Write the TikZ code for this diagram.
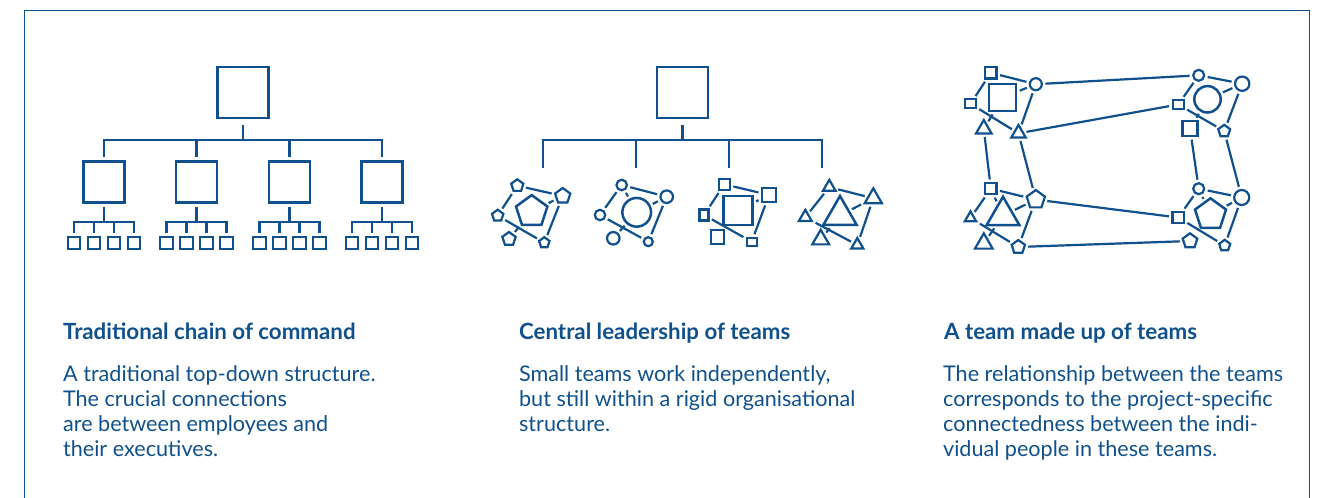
\documentclass[tikz,border=0pt]{standalone}
\usepackage{fontspec}
\setmainfont{Lato}
\usetikzlibrary{shapes.geometric,backgrounds}
\definecolor{teamblue}{RGB}{16,80,140}

\tikzset{
  unit/.style={draw, fill=white, inner sep=0pt, minimum size=#1},
  sq/.style 2 args={draw, fill=white, inner sep=0pt, minimum width=#1, minimum height=#2},
  pent/.style={regular polygon, regular polygon sides=5, draw, fill=white, inner sep=0pt, minimum size=#1},
  tri/.style={regular polygon, regular polygon sides=3, draw, fill=white, inner sep=0pt, minimum size=#1},
  dot/.style={circle, draw, fill=white, inner sep=0pt, minimum size=#1},
  tie/.style={draw=teamblue, line width=2.2pt, shorten >=2.5pt, shorten <=2.5pt},
  title/.style={anchor=base west, inner sep=0pt, font=\fontsize{22.3}{26}\selectfont\bfseries},
  blurb/.style={anchor=north west, inner sep=0pt, align=left, font=\fontsize{21.6}{25}\selectfont}
}

\begin{document}
\begin{tikzpicture}[x=1pt, y=-1pt, teamblue, line width=2.2pt]
  \useasboundingbox (0,0) rectangle (1318,498);
  \draw[line width=1.4pt] (24.5,498) -- (24.5,10.5) -- (1309.5,10.5) -- (1309.5,498);

  % traditional chain of command
  \node[unit=51] (boss1) at (243,92.5) {};
  \draw ([yshift=-6pt]boss1.south) -- ++(0,15) coordinate (bar1);
  \foreach \x [count=\i] in {104,196.5,289.5,382}{
    \node[unit=41] (lead\i) at (\x,182) {};
    \draw (bar1 -| lead\i) -- ([yshift=3pt]lead\i.north);
    \draw ([yshift=-3pt]lead\i.south) -- ++(0,15) coordinate (sub\i);
    \foreach \d [count=\j] in {-30,-10,10,30}{
      \node[unit=12.5, line width=1.9pt] (crew\i\j) at (\x+\d,243) {};
      \draw (sub\i -| crew\i\j) -- ([yshift=3pt]crew\i\j.north);
    }
    \draw[line cap=rect] (sub\i -| crew\i1) -- (sub\i -| crew\i4);
  }
  \draw[line cap=rect] (bar1 -| lead1) -- (bar1 -| lead4);

  % central leadership of teams
  \node[unit=51] (boss2) at (682.5,92.5) {};
  \draw ([yshift=-6pt]boss2.south) -- ++(0,15) coordinate (bar2);
  \foreach \x [count=\i] in {543,636,729,822}{
    \coordinate (drop\i) at (\x,168);
    \draw (bar2 -| drop\i) -- (drop\i);
  }
  \draw[line cap=rect] (bar2 -| drop1) -- (bar2 -| drop4);

  % pentagon team
  \node[pent=33, line width=2.5pt] (pBig) at (531.7,211.6) {};
  \node[pent=12.8] (pA) at (517.3,185.7) {};
  \node[pent=16] (pB) at (562.7,196) {};
  \node[pent=12] (pC) at (497.7,215.7) {};
  \node[pent=14] (pD) at (509,239) {};
  \node[pent=11] (pE) at (544.3,242.7) {};
  % circle team
  \node[dot=28.7, line width=2.5pt] (cBig) at (636.7,212.3) {};
  \node[dot=10.5] (cA) at (621.7,185) {};
  \node[dot=12.5] (cB) at (666.7,196.7) {};
  \node[dot=10.5] (cC) at (600,215) {};
  \node[dot=12.5] (cD) at (613.3,238.3) {};
  \node[dot=9] (cE) at (648.3,241.7) {};
  % square team
  \node[unit=29, line width=2.5pt] (sBig) at (738,210.3) {};
  \node[unit=11] (sA) at (724.3,184.3) {};
  \node[unit=14] (sB) at (769,195) {};
  \node[sq={9}{11}] (sC) at (704,215) {};
  \node[sq={13}{14}] (sD) at (717.7,236.7) {};
  \node[sq={10}{8}] (sE) at (751.7,241.7) {};
  % triangle team
  \node[tri=38.6, line width=2.5pt] (tBig) at (840,215.3) {};
  \node[tri=14.6] (tA) at (829.3,187.1) {};
  \node[tri=20] (tB) at (873.3,198.3) {};
  \node[tri=15] (tC) at (805.3,217.3) {};
  \node[tri=19.5] (tD) at (820.7,239.5) {};
  \node[tri=14] (tE) at (857.3,245) {};

  % a team made up of teams
  \node[unit=11.5] (qA) at (990.8,72.8) {};
  \node[unit=27, line width=2.5pt] (qB) at (1002.7,97.5) {};
  \node[sq={11}{9}] (qC) at (970.5,103.8) {};
  \node[dot=12] (qD) at (1035.8,84.2) {};
  \node[tri=18] (qE) at (983.8,129) {};
  \node[tri=16.6] (qF) at (1018.5,133.3) {};

  \node[dot=11] (rG) at (1198.7,75.3) {};
  \node[dot=26.4, line width=2.5pt] (rH) at (1207.5,99.3) {};
  \node[dot=14.3] (rI) at (1242.2,83.7) {};
  \node[sq={11.3}{9}] (rJ) at (1178.3,104.5) {};
  \node[unit=15] (rK) at (1190,128.5) {};
  \node[pent=12.6] (rL) at (1224.2,131.1) {};

  \node[unit=11.2] (mM) at (990.8,188.7) {};
  \node[pent=19.2] (mN) at (1035.8,199.6) {};
  \node[tri=37.8, line width=2.5pt] (mO) at (1003,215.6) {};
  \node[tri=13.2] (mP) at (970.5,218) {};
  \node[tri=20.4] (mQ) at (983.8,243.5) {};
  \node[pent=14] (mR) at (1018.3,247) {};

  \node[dot=11] (nT) at (1198.7,188.7) {};
  \node[pent=32.6, line width=2.5pt] (nU) at (1210.5,214.6) {};
  \node[dot=15] (nV) at (1241.7,197.5) {};
  \node[unit=11.5] (nS) at (1178.3,217.5) {};
  \node[pent=15.4] (nW) at (1190,241) {};
  \node[pent=11.6] (nX) at (1224.7,245.6) {};

  \begin{scope}[on background layer]
    \draw[tie] (pA) -- (pB);  \draw[tie] (pA) -- (pC);  \draw[tie] (pB) -- (pE);
    \draw[tie] (pC) -- (pE);  \draw[tie] (pD) -- (pBig); \draw[tie] (pB) -- (pBig);
    \draw[tie] (cA) -- (cB);  \draw[tie] (cA) -- (cC);  \draw[tie] (cB) -- (cE);
    \draw[tie] (cC) -- (cE);  \draw[tie] (cD) -- (cBig); \draw[tie] (cB) -- (cBig);
    \draw[tie] (cA) -- (cBig);
    \draw[tie] (sA) -- (sB);  \draw[tie] (sA) -- (sC);  \draw[tie] (sB) -- (sE);
    \draw[tie] (sC) -- (sE);  \draw[tie] (sB) -- (sBig);
    \draw[tie] (tA) -- (tB);  \draw[tie] (tA) -- (tC);  \draw[tie] (tB) -- (tE);
    \draw[tie] (tC) -- (tE);  \draw[tie] (tB) -- (tBig); \draw[tie] (tD) -- (tBig);

    \draw[tie] (qA) -- (qD);  \draw[tie] (qA) -- (qC);  \draw[tie] (qC) -- (qF);
    \draw[tie] (qE) -- (qB);  \draw[tie] (qD) -- (qF);  \draw[tie] (qD) -- (qB);
    \draw[tie] (rG) -- (rI);  \draw[tie] (rG) -- (rJ);  \draw[tie] (rJ) -- (rL);
    \draw[tie] (rI) -- (rH);  \draw[tie] (rI) -- (rL);  \draw[tie] (rK) -- (rH);
    \draw[tie] (mM) -- (mN);  \draw[tie] (mM) -- (mP);  \draw[tie] (mM) -- (mO);
    \draw[tie] (mN) -- (mO);  \draw[tie] (mN) -- (mR);  \draw[tie] (mP) -- (mR);
    \draw[tie] (mQ) -- (mO);
    \draw[tie] (nT) -- (nV);  \draw[tie] (nT) -- (nS);  \draw[tie] (nT) -- (nU);
    \draw[tie] (nV) -- (nU);  \draw[tie] (nV) -- (nX);  \draw[tie] (nS) -- (nX);
    % links between the teams
    \draw[tie] (qD) -- (rG);  \draw[tie] (qF) -- (rJ);
    \draw[tie] (qE) -- (mM);  \draw[tie] (qF) -- (mN);
    \draw[tie] (rK) -- (nT);  \draw[tie] (rL) -- (nV);
    \draw[tie] (mN) -- (nS);  \draw[tie] (mR) -- (nW);
  \end{scope}

  % captions
  \node[title] (head1) at (62,339) {Traditional chain of command};
  \node[blurb] (text1) at (62,364) {A traditional top-down structure.\\The crucial connections\\are between employees and\\their executives.};
  \node[title] (head2) at (518,339) {Central leadership of teams};
  \node[blurb] (text2) at (518,364) {Small teams work independently,\\but still within a rigid organisational\\structure.};
  \node[title] (head3) at (943,339) {A team made up of teams};
  \node[blurb] (text3) at (942,364) {The relationship between the teams\\corresponds to the project-specific\\connectedness between the indi-\\vidual people in these teams.};
\end{tikzpicture}
\end{document}
